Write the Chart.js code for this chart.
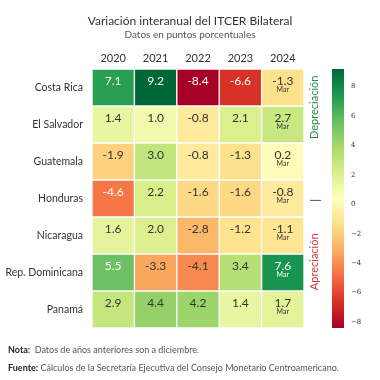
<!DOCTYPE html>
<html>
<head>
<meta charset="utf-8">
<script src="https://cdn.jsdelivr.net/npm/chart.js@4/dist/chart.umd.min.js"></script>
<style>
  body { margin: 0; background: #fff; }
  #cadre { position: relative; width: 380px; height: 380px; font-family: Lato, sans-serif; color: #333; }
  #cadre canvas { position: absolute; left: 0; top: 0; }
  .titre { position: absolute; left: 0; width: 380px; text-align: center; white-space: nowrap; }
  .note { position: absolute; left: 8px; font-size: 9px; color: #555; white-space: nowrap; }
  .note b { color: #222; }
</style>
</head>
<body>
<div id="cadre">
  <canvas id="graphique" width="380" height="380"></canvas>
  <div class="titre" style="top: 13px; font-size: 12px; color: #333;">Variación interanual del ITCER Bilateral</div>
  <div class="titre" style="top: 28px; font-size: 10px; color: #555;">Datos en puntos porcentuales</div>
  <div class="note" style="top: 344px;"><b>Nota:</b>&nbsp; Datos de años anteriores son a diciembre.</div>
  <div class="note" style="top: 362px;"><b>Fuente:</b> Cálculos de la Secretaría Ejecutiva del Consejo Monetario Centroamericano.</div>
</div>
<script>
// Données du graphique
const annees = ["2020", "2021", "2022", "2023", "2024"];
const paises = ["Costa Rica", "El Salvador", "Guatemala", "Honduras", "Nicaragua", "Rep. Dominicana", "Panamá"];
const valeurs = [
    [7.1, 9.2, -8.4, -6.6, -1.3],
    [1.4, 1.0, -0.8, 2.1, 2.7],
    [-1.9, 3.0, -0.8, -1.3, 0.2],
    [-4.6, 2.2, -1.6, -1.6, -0.8],
    [1.6, 2.0, -2.8, -1.2, -1.1],
    [5.5, -3.3, -4.1, 3.4, 7.6],
    [2.9, 4.4, 4.2, 1.4, 1.7],
];
const moisDernier = "Mar"; // la dernière colonne est à mars
const ticksBarre = [-8, -6, -4, -2, 0, 2, 4, 6, 8];
const vmin = -8.4;
const vmax = 9.2;

// Palette RdYlGn
const palette = ["#a50026", "#d73027", "#f46d43", "#fdae61", "#fee08b", "#ffffbf",
                 "#d9ef8b", "#a6d96a", "#66bd63", "#1a9850", "#006837"];

function hexVersRgb(h) {
    return [parseInt(h.slice(1, 3), 16), parseInt(h.slice(3, 5), 16), parseInt(h.slice(5, 7), 16)];
}

function couleur(v) {
    let t = (v - vmin) / (vmax - vmin);
    t = Math.max(0, Math.min(1, t)) * (palette.length - 1);
    const i = Math.min(Math.floor(t), palette.length - 2);
    const f = t - i;
    const a = hexVersRgb(palette[i]);
    const b = hexVersRgb(palette[i + 1]);
    const c = a.map((x, k) => Math.round(x + (b[k] - x) * f));
    return `rgb(${c[0]}, ${c[1]}, ${c[2]})`;
}

// Texte blanc sur les cases foncées
function couleurTexte(v) {
    return (v > 5 || v < -4.3) ? "#ffffff" : "#333333";
}

// Plugin pour les étiquettes, la barre de couleur et les annotations
const pluginCarte = {
    id: "carte",
    afterDatasetsDraw(chart) {
        const ctx = chart.ctx;
        ctx.save();
        ctx.textAlign = "center";
        ctx.textBaseline = "middle";
        chart.data.datasets.forEach((ds, i) => {
            const meta = chart.getDatasetMeta(i);
            meta.data.forEach((el, j) => {
                const haut = Math.min(el.y, el.base);
                const v = valeurs[i][j];
                ctx.fillStyle = couleurTexte(v);
                ctx.font = "12px Lato";
                ctx.fillText(v.toFixed(1), el.x, haut + 12);
                if (j === annees.length - 1) {
                    ctx.font = "7px Lato";
                    ctx.fillText(moisDernier, el.x, haut + 21);
                }
            });
        });

        // Barre de couleur
        const cb = chart.scales.cb;
        const yHaut = cb.getPixelForValue(vmax);
        const yBas = cb.getPixelForValue(vmin);
        const xBarre = chart.chartArea.right + 28;
        const grad = ctx.createLinearGradient(0, yHaut, 0, yBas);
        palette.forEach((c, k) => grad.addColorStop(1 - k / (palette.length - 1), c));
        ctx.fillStyle = grad;
        ctx.fillRect(xBarre, yHaut, 12, yBas - yHaut);

        // Depreciación / Apreciación
        const xTexte = chart.chartArea.right + 10;
        ctx.font = "11px Lato";
        ctx.fillStyle = "#2a8a3e";
        ctx.translate(xTexte, cb.getPixelForValue(6.6));
        ctx.rotate(-Math.PI / 2);
        ctx.fillText("Depreciación", 0, 0);
        ctx.setTransform(1, 0, 0, 1, 0, 0);
        ctx.fillStyle = "#d2363b";
        ctx.translate(xTexte, cb.getPixelForValue(-3.9));
        ctx.rotate(-Math.PI / 2);
        ctx.fillText("Apreciación", 0, 0);
        ctx.setTransform(1, 0, 0, 1, 0, 0);

        // petit trait au niveau de zéro
        const yZero = cb.getPixelForValue(0) - 4;
        ctx.strokeStyle = "#555";
        ctx.lineWidth = 1;
        ctx.beginPath();
        ctx.moveTo(xTexte - 4, yZero);
        ctx.lineTo(xTexte + 7, yZero);
        ctx.stroke();
        ctx.restore();
    },
};

const canvasGraphique = document.getElementById("graphique");
const graphique = new Chart(canvasGraphique, {
    type: "bar",
    data: {
        labels: annees,
        datasets: paises.map((pais, i) => ({
            label: pais,
            data: annees.map(() => [i, i + 1]),
            backgroundColor: valeurs[i].map(couleur),
            borderColor: "#ffffff",
            borderWidth: 1,
            borderSkipped: false,
            grouped: false,
            barPercentage: 1,
            categoryPercentage: 1,
            yAxisID: "y",
        })),
    },
    options: {
        responsive: false,
        animation: false,
        layout: { padding: { top: 0, left: 0, right: 0, bottom: 52 } },
        plugins: {
            legend: { display: false },
            tooltip: { enabled: false },
        },
        scales: {
            x: {
                type: "category",
                position: "top",
                grid: { display: false },
                border: { display: false },
                ticks: { padding: -4, color: "#333", font: { family: "Lato", size: 11 } },
                afterFit: (scale) => { scale.height = 69; },
            },
            y: {
                type: "linear",
                min: 0,
                max: paises.length,
                reverse: true,
                grid: { display: false },
                border: { display: false },
                afterBuildTicks: (axis) => { axis.ticks = paises.map((p, i) => ({ value: i + 0.5 })); },
                ticks: {
                    padding: 1,
                    color: "#333",
                    font: { family: "Lato", size: 10.5 },
                    callback: (v) => paises[Math.floor(v)],
                },
                afterFit: (scale) => { scale.width = 92; },
            },
            cb: {
                type: "linear",
                position: "right",
                min: vmin,
                max: vmax,
                grid: { display: false },
                border: { display: false },
                afterBuildTicks: (axis) => { axis.ticks = ticksBarre.map((v) => ({ value: v })); },
                ticks: {
                    padding: 39,
                    color: "#333",
                    font: { family: "DejaVu Serif", size: 7 },
                    callback: (v) => (v < 0 ? "\u2212" + Math.abs(v) : String(v)),
                },
                afterFit: (scale) => { scale.width = 76; },
            },
        },
    },
    plugins: [pluginCarte],
});
</script>
</body>
</html>
